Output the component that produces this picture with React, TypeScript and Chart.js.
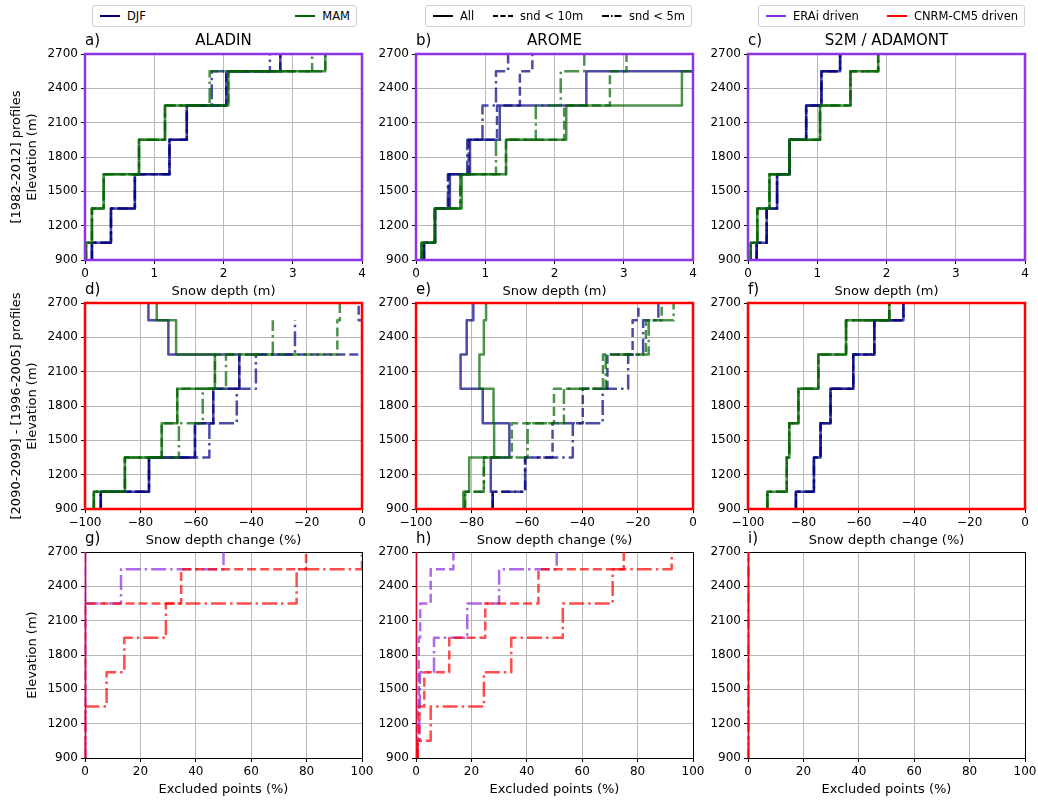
import React, { useEffect, useRef } from 'react';
import { Chart, registerables } from 'chart.js';

Chart.register(...registerables);

const FONT = '"DejaVu Sans", Verdana, sans-serif';

// ---------------- data ----------------
const elevations = [900, 1200, 1500, 1800, 2100, 2400, 2700];
const elevationTicks = [900, 1200, 1500, 1800, 2100, 2400, 2700];
const depthTicks = [0, 1, 2, 3, 4];
const changeTicks = [-100, -80, -60, -40, -20, 0];
const excludedTicks = [0, 20, 40, 60, 80, 100];

const seasonLabels = ['DJF', 'MAM'];
const filterLabels = ['All', 'snd < 10m', 'snd < 5m'];
const forcingLabels = ['ERAi driven', 'CNRM-CM5 driven'];
const modelTitles = ['ALADIN', 'AROME', 'S2M / ADAMONT'];

// a) ALADIN, ERAi driven, snow depth (m)
const aladinDjfAll = [0.10, 0.375, 0.72, 1.22, 1.47, 2.04, 2.82];
const aladinDjfLt10 = [0.10, 0.375, 0.72, 1.22, 1.47, 2.04, 2.82];
const aladinDjfLt5 = [0.10, 0.375, 0.72, 1.22, 1.47, 1.83, 2.67];
const aladinMamAll = [0.015, 0.10, 0.27, 0.78, 1.155, 2.07, 3.47];
const aladinMamLt10 = [0.015, 0.10, 0.27, 0.78, 1.155, 2.07, 3.47];
const aladinMamLt5 = [0.015, 0.10, 0.27, 0.78, 1.155, 1.80, 3.28];

// b) AROME, ERAi driven, snow depth (m)
const aromeDjfAll = [0.116, 0.274, 0.49, 0.78, 1.21, 2.46, 4.4];
const aromeDjfLt10 = [0.116, 0.274, 0.47, 0.76, 1.17, 1.50, 1.68];
const aromeDjfLt5 = [0.116, 0.274, 0.46, 0.74, 0.96, 1.155, 1.33];
const aromeMamAll = [0.08, 0.274, 0.66, 1.30, 2.17, 3.84, 4.6];
const aromeMamLt10 = [0.08, 0.274, 0.64, 1.30, 2.14, 2.80, 3.04];
const aromeMamLt5 = [0.08, 0.274, 0.64, 1.155, 1.73, 2.09, 2.43];

// c) S2M / ADAMONT, ERAi driven, snow depth (m)
const s2mDjf = [0.125, 0.27, 0.42, 0.60, 0.84, 1.06, 1.33];
const s2mMam = [0.04, 0.135, 0.31, 0.60, 1.04, 1.48, 1.88];

// d) ALADIN, CNRM-CM5 driven, snow depth change (%)
const aladinChgDjfAll = [-94.3, -76.9, -60.3, -53.7, -44.3, -69.9, -77.1];
const aladinChgDjfLt10 = [-94.3, -76.9, -60.3, -53.7, -44.3, 4, -1.2];
const aladinChgDjfLt5 = [-94.3, -76.9, -55.1, -45.2, -38.3, -24.2, null];
const aladinChgMamAll = [-96.8, -85.6, -72.3, -66.7, -53.1, -67.1, -74.1];
const aladinChgMamLt10 = [-96.8, -85.6, -72.3, -66.7, -53.1, -8.9, -8.0];
const aladinChgMamLt5 = [-96.8, -85.6, -66.1, -57.5, -49.1, -32.2, null];

// e) AROME, CNRM-CM5 driven, snow depth change (%)
const aromeChgDjfAll = [-72.3, -73.0, -66.3, -75.9, -83.9, -81.7, -79.3];
const aromeChgDjfLt10 = [-72.3, -60.6, -50.7, -39.8, -30.9, -21.8, -19.7];
const aromeChgDjfLt5 = [-72.3, -60.6, -43.4, -32.6, -23.4, -18.0, -12.5];
const aromeChgMamAll = [-82.9, -80.8, -71.8, -72.0, -77.1, -75.5, -74.7];
const aromeChgMamLt10 = [-82.3, -75.5, -65.4, -50.2, -32.5, -17.0, -11.3];
const aromeChgMamLt5 = [-82.3, -75.5, -59.7, -46.6, -31.5, -16.0, -7.0];

// f) S2M / ADAMONT, CNRM-CM5 driven, snow depth change (%)
const s2mChgDjf = [-82.7, -76.2, -73.8, -70.2, -62.0, -54.4, -43.9];
const s2mChgMam = [-93.0, -86.0, -85.1, -81.8, -74.6, -64.6, -49.0];

// g) ALADIN excluded points (%)
const aladinExclEraiAll = [0, 0, 0, 0, 0, 0, 0];
const aladinExclEraiLt10 = [0, 0, 0, 0, 0, 0, 0];
const aladinExclEraiLt5 = [0, 0, 0, 0, 0, 13, 50];
const aladinExclCnrmAll = [0, 0, 0, 0, 0, 0, 0];
const aladinExclCnrmLt10 = [0, 0, 0, 0, 0, 34.7, 79.8];
const aladinExclCnrmLt5 = [0, 0, 7.8, 14.2, 29.2, 76.4, 100];

// h) AROME excluded points (%)
const aromeExclEraiAll = [0, 0, 0, 0, 0, 0, 0];
const aromeExclEraiLt10 = [0.3, 0.5, 1.0, 1.0, 1.5, 5.3, 13.5];
const aromeExclEraiLt5 = [0.5, 1.2, 1.4, 6.5, 18.5, 30.0, 50.8];
const aromeExclCnrmAll = [0, 0, 0, 0, 0, 0, 0];
const aromeExclCnrmLt10 = [0.6, 1.2, 3.0, 12.0, 25.0, 44.2, 75.0];
const aromeExclCnrmLt5 = [0.6, 5.3, 24.5, 34.4, 53.0, 71.0, 92.3];

// i) S2M / ADAMONT excluded points (%)
const s2mExclErai = [0, 0, 0, 0, 0, 0, 0];
const s2mExclCnrm = [0, 0, 0, 0, 0, 0, 0];

// ---------------- styles ----------------
const DJF_C = 'rgba(0,0,128,0.7)';
const MAM_C = 'rgba(0,100,0,0.7)';
const ERAI_C = 'rgba(138,43,226,0.7)';
const CNRM_C = 'rgba(255,0,0,0.7)';
const ERAI_FRAME = '#8f33e8';
const CNRM_FRAME = '#ff0000';

const DASHES = { solid: [], dashed: [9, 4], dashdot: [15, 4, 2.5, 4] };

const COL_LEFT = [85, 416, 748];
const ROW_TOP = [54, 303, 552];
const PLOT_W = 277;
const PLOT_H = 206;

function trio(c, all, lt10, lt5) {
  return [
    { v: all, c, s: 'solid' },
    { v: lt10, c, s: 'dashed' },
    { v: lt5, c, s: 'dashdot' },
  ];
}

const panels = [
  { row: 0, col: 0, letter: 'a)', title: modelTitles[0], xMin: 0, xMax: 4, xTicks: depthTicks, xTitle: 'Snow depth (m)', frame: ERAI_FRAME, frameW: 2.5,
    series: [...trio(DJF_C, aladinDjfAll, aladinDjfLt10, aladinDjfLt5), ...trio(MAM_C, aladinMamAll, aladinMamLt10, aladinMamLt5)] },
  { row: 0, col: 1, letter: 'b)', title: modelTitles[1], xMin: 0, xMax: 4, xTicks: depthTicks, xTitle: 'Snow depth (m)', frame: ERAI_FRAME, frameW: 2.5,
    series: [...trio(DJF_C, aromeDjfAll, aromeDjfLt10, aromeDjfLt5), ...trio(MAM_C, aromeMamAll, aromeMamLt10, aromeMamLt5)] },
  { row: 0, col: 2, letter: 'c)', title: modelTitles[2], xMin: 0, xMax: 4, xTicks: depthTicks, xTitle: 'Snow depth (m)', frame: ERAI_FRAME, frameW: 2.5,
    series: [...trio(DJF_C, s2mDjf, s2mDjf, s2mDjf), ...trio(MAM_C, s2mMam, s2mMam, s2mMam)] },
  { row: 1, col: 0, letter: 'd)', title: '', xMin: -100, xMax: 0, xTicks: changeTicks, xTitle: 'Snow depth change (%)', frame: CNRM_FRAME, frameW: 2.5,
    series: [...trio(DJF_C, aladinChgDjfAll, aladinChgDjfLt10, aladinChgDjfLt5), ...trio(MAM_C, aladinChgMamAll, aladinChgMamLt10, aladinChgMamLt5)] },
  { row: 1, col: 1, letter: 'e)', title: '', xMin: -100, xMax: 0, xTicks: changeTicks, xTitle: 'Snow depth change (%)', frame: CNRM_FRAME, frameW: 2.5,
    series: [...trio(DJF_C, aromeChgDjfAll, aromeChgDjfLt10, aromeChgDjfLt5), ...trio(MAM_C, aromeChgMamAll, aromeChgMamLt10, aromeChgMamLt5)] },
  { row: 1, col: 2, letter: 'f)', title: '', xMin: -100, xMax: 0, xTicks: changeTicks, xTitle: 'Snow depth change (%)', frame: CNRM_FRAME, frameW: 2.5,
    series: [...trio(DJF_C, s2mChgDjf, s2mChgDjf, s2mChgDjf), ...trio(MAM_C, s2mChgMam, s2mChgMam, s2mChgMam)] },
  { row: 2, col: 0, letter: 'g)', title: '', xMin: 0, xMax: 100, xTicks: excludedTicks, xTitle: 'Excluded points (%)', frame: '#000', frameW: 1,
    series: [...trio(ERAI_C, aladinExclEraiAll, aladinExclEraiLt10, aladinExclEraiLt5), ...trio(CNRM_C, aladinExclCnrmAll, aladinExclCnrmLt10, aladinExclCnrmLt5)] },
  { row: 2, col: 1, letter: 'h)', title: '', xMin: 0, xMax: 100, xTicks: excludedTicks, xTitle: 'Excluded points (%)', frame: '#000', frameW: 1,
    series: [...trio(ERAI_C, aromeExclEraiAll, aromeExclEraiLt10, aromeExclEraiLt5), ...trio(CNRM_C, aromeExclCnrmAll, aromeExclCnrmLt10, aromeExclCnrmLt5)] },
  { row: 2, col: 2, letter: 'i)', title: '', xMin: 0, xMax: 100, xTicks: excludedTicks, xTitle: 'Excluded points (%)', frame: '#000', frameW: 1,
    series: [...trio(ERAI_C, s2mExclErai, s2mExclErai, s2mExclErai), ...trio(CNRM_C, s2mExclCnrm, s2mExclCnrm, s2mExclCnrm)] },
];

const yTitles = [
  { row: 0, lines: ['[1982-2012] profiles', 'Elevation (m)'], cx: 24 },
  { row: 1, lines: ['[2090-2099] - [1996-2005] profiles', 'Elevation (m)'], cx: 24 },
  { row: 2, lines: ['Elevation (m)'], cx: 32 },
];

function stepPoints(values) {
  const pts = [];
  values.forEach((v, i) => {
    const lo = i === 0 ? elevations[0] : (elevations[i - 1] + elevations[i]) / 2;
    const hi = i === values.length - 1 ? elevations[i] : (elevations[i] + elevations[i + 1]) / 2;
    pts.push({ x: v, y: lo }, { x: v, y: hi });
  });
  return pts;
}

function fmtTick(v) {
  return v < 0 ? '\u2212' + Math.abs(v) : String(v);
}

function strokeFrame(chart, opts) {
  const { ctx, chartArea } = chart;
  const { left, top, right, bottom } = chartArea;
  ctx.save();
  ctx.strokeStyle = opts.color;
  ctx.lineWidth = opts.width;
  if (opts.width === 1) {
    ctx.strokeRect(Math.round(left) + 0.5, Math.round(top) + 0.5, Math.round(right - left), Math.round(bottom - top));
  } else {
    ctx.strokeRect(left, top, right - left, bottom - top);
  }
  ctx.restore();
}

const framePlugin = {
  id: 'frame',
  beforeDatasetsDraw(chart, _args, opts) {
    if (opts.under) strokeFrame(chart, opts);
  },
  afterDatasetsDraw(chart, _args, opts) {
    if (!opts.under) strokeFrame(chart, opts);
  },
};

const PAD_TOP = 12;
const X_AXIS_H = 45;
const PAD_RIGHT = 18;

function PanelChart({ p }) {
  const ref = useRef(null);
  const yAxisW = p.col === 0 ? 85 : 50;
  const w = yAxisW + PLOT_W + PAD_RIGHT;
  const h = PAD_TOP + PLOT_H + X_AXIS_H;
  const left = COL_LEFT[p.col] - yAxisW;
  const top = ROW_TOP[p.row] - PAD_TOP;

  useEffect(() => {
    const datasets = p.series
      .map((s) => ({
        data: stepPoints(s.v),
        showLine: true,
        borderColor: s.c,
        backgroundColor: s.c,
        borderWidth: 2.5,
        borderDash: DASHES[s.s],
        borderCapStyle: s.s === 'solid' ? 'square' : 'butt',
        borderJoinStyle: 'round',
        pointRadius: 0,
        pointHoverRadius: 0,
        fill: false,
        tension: 0,
        clip: p.row === 2 ? { left: 0.3, right: 0, top: 0, bottom: 0 } : 0,
      }))
      .reverse();
    const tickFont = { family: FONT, size: 12 };
    const chart = new Chart(ref.current, {
      type: 'scatter',
      data: { datasets },
      options: {
        animation: false,
        responsive: false,
        devicePixelRatio: 1,
        events: [],
        layout: { padding: { left: 0, top: PAD_TOP, right: PAD_RIGHT, bottom: 0 } },
        plugins: {
          legend: { display: false },
          tooltip: { enabled: false },
          title: { display: false },
          frame: { color: p.frame, width: p.frameW, under: p.row === 2 },
        },
        scales: {
          x: {
            type: 'linear',
            position: 'bottom',
            min: p.xMin,
            max: p.xMax,
            afterFit: (s) => { s.height = X_AXIS_H; },
            afterBuildTicks: (s) => { s.ticks = p.xTicks.map((v) => ({ value: v })); },
            ticks: { font: tickFont, color: '#000', padding: 3, maxRotation: 0, autoSkip: false, callback: (v) => fmtTick(v) },
            grid: { color: '#b8b8b8', lineWidth: 1, tickColor: '#000', tickLength: 4, tickWidth: 1 },
            border: { display: false },
            title: { display: true, text: p.xTitle, color: '#000', font: { family: FONT, size: 13 }, padding: { top: 0, bottom: 6 } },
          },
          y: {
            type: 'linear',
            position: 'left',
            min: 900,
            max: 2700,
            afterFit: (s) => { s.width = yAxisW; },
            afterBuildTicks: (s) => { s.ticks = elevationTicks.map((v) => ({ value: v })); },
            ticks: { font: tickFont, color: '#000', padding: 3, autoSkip: false, callback: (v) => String(v) },
            grid: { color: '#b8b8b8', lineWidth: 1, tickColor: '#000', tickLength: 4, tickWidth: 1 },
            border: { display: false },
            title: { display: false },
          },
        },
      },
      plugins: [framePlugin],
    });
    return () => chart.destroy();
  }, []);

  return (
    <canvas
      ref={ref}
      width={w}
      height={h}
      style={{ position: 'absolute', left, top, width: w, height: h }}
    />
  );
}

function LegendLine({ color, dash }) {
  return (
    <svg width={22} height={10} style={{ display: 'block' }}>
      <line x1={1} y1={5} x2={21} y2={5} stroke={color} strokeWidth={2} strokeDasharray={dash} />
    </svg>
  );
}

function LegendBox({ left, width, items }) {
  return (
    <div
      style={{
        position: 'absolute', left, top: 5, width, height: 22, boxSizing: 'border-box',
        border: '1px solid #d0d0d0', borderRadius: 3, display: 'flex', alignItems: 'center',
        justifyContent: 'space-between', padding: '0 6px', fontSize: 11.5, fontFamily: FONT, color: '#000',
      }}
    >
      {items.map((it, i) => (
        <div key={i} style={{ display: 'flex', alignItems: 'center', gap: 6, whiteSpace: 'nowrap' }}>
          <LegendLine color={it.color} dash={it.dash} />
          <span>{it.label}</span>
        </div>
      ))}
    </div>
  );
}

export default function App() {
  const seasonItems = [
    { label: seasonLabels[0], color: '#000080', dash: undefined },
    { label: seasonLabels[1], color: '#006400', dash: undefined },
  ];
  const filterItems = [
    { label: filterLabels[0], color: '#000', dash: undefined },
    { label: filterLabels[1], color: '#000', dash: '5 2.5' },
    { label: filterLabels[2], color: '#000', dash: '7 2 1.5 2' },
  ];
  const forcingItems = [
    { label: forcingLabels[0], color: '#8a2be2', dash: undefined },
    { label: forcingLabels[1], color: '#ff0000', dash: undefined },
  ];

  return (
    <div style={{ position: 'absolute', left: 0, top: 0, width: 1038, height: 800, background: '#fff', fontFamily: FONT, overflow: 'hidden' }}>
      {panels.map((p, i) => (
        <PanelChart key={i} p={p} />
      ))}
      {panels.map((p, i) => (
        <React.Fragment key={'t' + i}>
          <div style={{ position: 'absolute', left: COL_LEFT[p.col], top: ROW_TOP[p.row] - 23, fontSize: 15, lineHeight: '18px', color: '#000' }}>{p.letter}</div>
          {p.title ? (
            <div style={{ position: 'absolute', left: COL_LEFT[p.col], width: PLOT_W, top: ROW_TOP[p.row] - 23, fontSize: 15, lineHeight: '18px', textAlign: 'center', color: '#000' }}>{p.title}</div>
          ) : null}
        </React.Fragment>
      ))}
      {yTitles.map((t, i) => (
        <div
          key={'y' + i}
          style={{
            position: 'absolute', left: t.cx, top: ROW_TOP[t.row] + PLOT_H / 2,
            transform: 'translate(-50%, -50%) rotate(-90deg)', whiteSpace: 'nowrap', textAlign: 'center',
            fontSize: 13, lineHeight: '16px', color: '#000',
          }}
        >
          {t.lines.map((l, j) => (
            <div key={j}>{l}</div>
          ))}
        </div>
      ))}
      <LegendBox left={92} width={265} items={seasonItems} />
      <LegendBox left={425} width={267} items={filterItems} />
      <LegendBox left={758} width={267} items={forcingItems} />
    </div>
  );
}
